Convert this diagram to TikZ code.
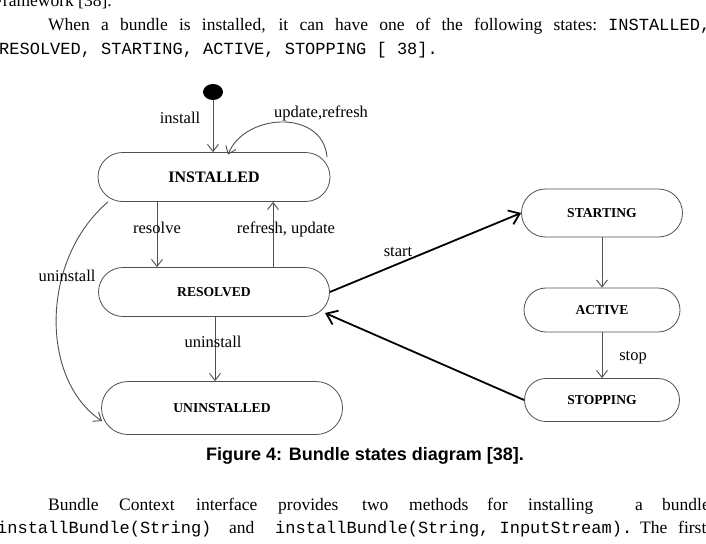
\documentclass[tikz,border=0pt]{standalone}
\usepackage{fontspec}
\setmainfont{Liberation Serif}
\setmonofont{Liberation Mono}
\newfontfamily\capfont{Liberation Sans}
\usetikzlibrary{shapes.misc,shapes.geometric,arrows.meta,calc}
\definecolor{linec}{HTML}{505050}
\begin{document}
\begin{tikzpicture}[x=1pt,y=1pt,
  state/.style={rounded rectangle, draw=linec, line width=0.8pt, inner sep=0pt,
    font=\fontsize{13.6}{15}\selectfont\bfseries},
  lbl/.style={font=\fontsize{16.5}{18}\selectfont, inner sep=0pt, anchor=base},
  tarrow/.style={draw=linec, line width=0.9pt, -{Straight Barb[length=7pt,width=11pt]}},
  barrow/.style={draw=black, line width=1.8pt, -{Straight Barb[length=10pt,width=15pt]}},
  body/.style={font=\fontsize{17.5}{20}\selectfont, inner sep=0pt, anchor=base west},
  code/.style={font=\fontsize{17}{20}\selectfont\ttfamily, inner sep=0pt, anchor=base west},
  caption/.style={font=\fontsize{18}{20}\capfont\bfseries, inner sep=0pt, anchor=base}
]
\useasboundingbox (0,0) rectangle (706,-543);
\clip (0,0) rectangle (706,-543);
\fill[white] (0,0) rectangle (706,-543);

% --- body text above ---
\node[body] (t1) at (-7,-7) {Framework [38].};
\node[body] (t2) at (48,-31) {\makebox[549pt][s]{When a bundle is installed, it can have one of the following states:}};
\node[code] (t2b) at (608,-31) {INSTALLED,};
\node[code] (t3) at (-1,-55) {RESOLVED, STARTING, ACTIVE, STOPPING [ 38].};

% --- states ---
\node[ellipse, fill=black, minimum width=20pt, minimum height=16pt, inner sep=0pt] (init) at (213,-92) {};
\node[state, minimum width=232pt, minimum height=49pt, font=\fontsize{16}{18}\selectfont\bfseries] (inst) at (214,-177) {INSTALLED};
\node[state, minimum width=231pt, minimum height=49pt] (res) at (214,-292) {RESOLVED};
\node[state, minimum width=241pt, minimum height=53pt] (unin) at (222,-408) {UNINSTALLED};
\node[state, minimum width=161pt, minimum height=48pt] (start) at (602,-213) {STARTING};
\node[state, minimum width=156pt, minimum height=44pt] (act) at (602,-310) {ACTIVE};
\node[state, minimum width=155pt, minimum height=43pt] (stop) at (602,-400) {STOPPING};

% --- transitions ---
\draw[tarrow] (init.south) -- (init.south |- inst.north);
\draw[tarrow] ([xshift=113pt,yshift=-5pt]inst.north) .. controls +(-4,48) and +(17,42) .. ([xshift=14pt,yshift=-2.5pt]inst.north);
\draw[tarrow] ([xshift=-57pt]inst.south) -- ([xshift=-57pt]res.north);
\draw[tarrow] ([xshift=59pt]res.north) -- ([xshift=59pt]inst.south);
\draw[tarrow] ([xshift=1pt]res.south) -- ([xshift=1pt]res.south |- unin.north);
\draw[tarrow] ([xshift=-106pt]inst.south) .. controls +(-68,-58) and +(-62,41) .. ([xshift=-120pt,yshift=-13pt]unin.center);
\draw[tarrow] (start.south) -- (act.north);
\draw[tarrow] (act.south) -- (stop.north);
\draw[barrow] (res.east) -- (start.west);
\draw[barrow] (stop.west) -- ([xshift=111pt,yshift=-21pt]res.center);

% --- labels ---
\node[lbl] (linstall) at (180,-123) {install};
\node[lbl] (lupd) at (321,-117) {update,refresh};
\node[lbl] (lres) at (157,-233) {resolve};
\node[lbl] (lref) at (286,-233) {refresh, update};
\node[lbl] (lun1) at (67,-281) {uninstall};
\node[lbl] (lun2) at (213,-347) {uninstall};
\node[lbl] (lstart) at (398,-256) {start};
\node[lbl] (lstop) at (633,-360) {stop};

% --- caption ---
\node[caption] (cap) at (365,-460) {Figure 4: Bundle states diagram [38].};

% --- body text below ---
\foreach \x/\w [count=\i] in {48/Bundle, 119/Context, 196/interface, 278/provides, 362/two, 409/methods, 487/for, 528/installing, 635/a, 662/bundle:}
  \node[body] (b\i) at (\x,-510) {\w};
\node[code] (c1) at (-3,-533) {installBundle(String)};
\node[body] (c2) at (229,-533) {and};
\node[code] (c3) at (275,-533) {installBundle(String, InputStream).};
\node[body] (c4) at (640,-533) {The};
\node[body] (c5) at (678,-533) {first};
\end{tikzpicture}
\end{document}
